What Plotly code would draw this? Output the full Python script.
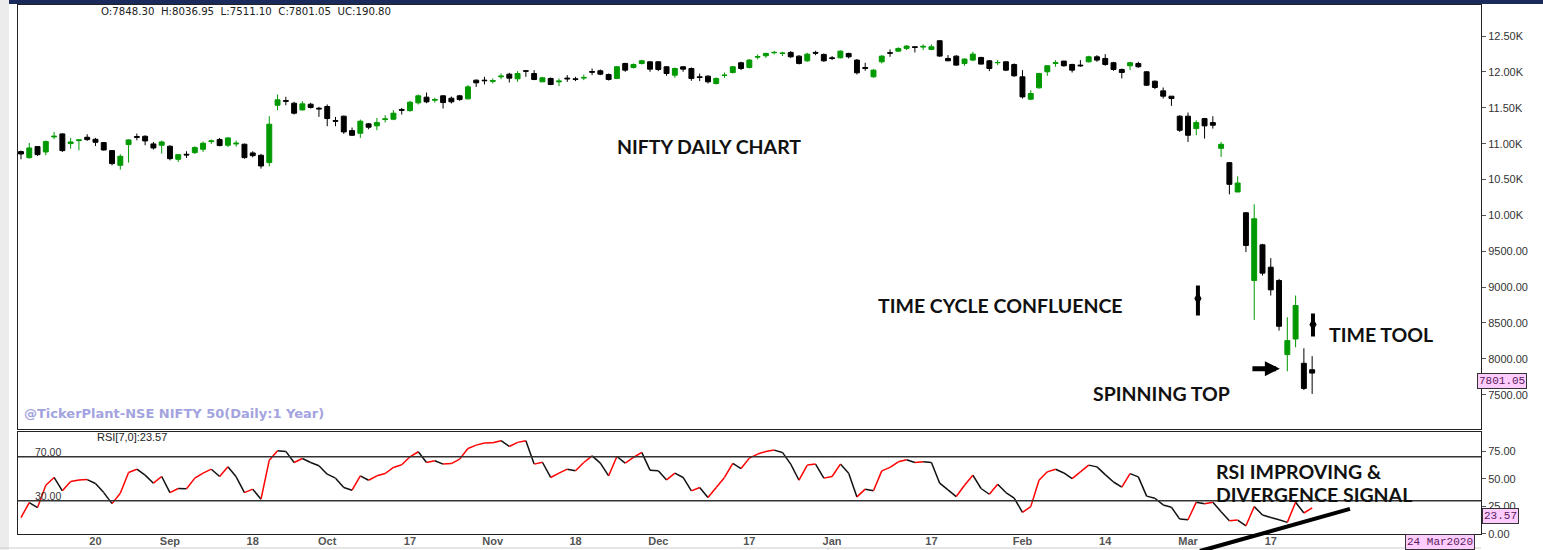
import plotly.graph_objects as go
import pandas as pd

W, H = 1543, 550
FIG_H = 557   # rendered height; layout positions below are expressed as fractions of the 550px reference

# ---------------- data ----------------
holidays = ['2019-08-12', '2019-08-15', '2019-09-02', '2019-09-10', '2019-10-02',
            '2019-10-08', '2019-10-21', '2019-10-28', '2019-11-12', '2019-12-25',
            '2020-02-21', '2020-03-10']
special_sessions = ['2019-10-27', '2020-02-01']
_bd = [d.strftime('%Y-%m-%d') for d in pd.bdate_range('2019-08-05', '2020-03-24')]
dates = sorted((set(_bd) - set(holidays)) | set(special_sessions))

opens = [10889, 10805, 10959, 10884, 11094, 11136, 11001, 11042, 11089, 11061,
         11015, 10903, 10698, 10987, 11099, 11103, 10996, 10978, 10964, 10782,
         10852, 10875, 10922, 11029, 11057, 10978, 10996, 10992, 10871, 10838,
         10736, 11536, 11601, 11564, 11471, 11550, 11494, 11518, 11322, 11383,
         11182, 11145, 11276, 11248, 11336, 11341, 11476, 11462, 11569, 11648,
         11606, 11667, 11634, 11667, 11625, 11885, 11885, 11868, 11932, 11969,
         11904, 12016, 11978, 11862, 11909, 11862, 11914, 11904, 11914, 12006,
         12016, 11964, 11909, 12118, 12062, 12118, 12141, 12141, 12072, 11955,
         12072, 12048, 11932, 11941, 11839, 11950, 11992, 12128, 12062, 12207,
         12225, 12267, 12258, 12272, 12220, 12155, 12272, 12244, 12197, 12197,
         12258, 12165, 12062, 11932, 12141, 12267, 12290, 12328, 12351, 12346,
         12314, 12435, 12188, 12220, 12118, 12165, 12202, 12155, 12128, 12141,
         12104, 11932, 11620, 11778, 12002, 12118, 12151, 12104, 12095, 12141,
         12211, 12188, 12128, 12034, 12086, 12118, 12002, 11871, 11736, 11662,
         11383, 11383, 11210, 11350, 11294, 10935, 10735, 10326, 10037, 9092,
         9590, 9278, 9092, 8059, 8277, 7938, 7848.30]
highs = [10903, 11010, 10968, 11043, 11164, 11145, 11080, 11061, 11131, 11080,
         11024, 10912, 10852, 11061, 11141, 11117, 11024, 11043, 10978, 10857,
         10894, 10964, 11029, 11057, 11080, 11089, 11043, 11001, 10894, 10857,
         11383, 11685, 11653, 11583, 11592, 11569, 11513, 11546, 11373, 11392,
         11224, 11336, 11289, 11359, 11397, 11466, 11499, 11597, 11685, 11713,
         11639, 11676, 11657, 11680, 11816, 11895, 11932, 11909, 11978, 11988,
         12011, 12025, 12025, 11932, 11923, 11909, 11955, 11932, 11964, 12048,
         12034, 11978, 12081, 12128, 12118, 12169, 12151, 12151, 12081, 12062,
         12081, 12062, 11978, 11955, 11923, 11992, 12081, 12142, 12179, 12244,
         12267, 12295, 12281, 12290, 12234, 12267, 12295, 12258, 12221, 12300,
         12267, 12179, 12128, 12039, 12234, 12314, 12342, 12374, 12351, 12384,
         12384, 12444, 12235, 12234, 12188, 12281, 12211, 12165, 12165, 12151,
         12118, 12025, 11746, 11988, 12095, 12165, 12155, 12114, 12165, 12225,
         12234, 12248, 12141, 12048, 12141, 12141, 12011, 11881, 11783, 11662,
         11397, 11434, 11327, 11359, 11383, 11024, 10745, 10545, 10045, 10154,
         9604, 9404, 9115, 8580, 8883, 8147, 8036.95]
lows = [10782, 10791, 10829, 10838, 11061, 10884, 10931, 10908, 11038, 10968,
        10903, 10698, 10638, 10736, 11047, 10978, 10917, 10861, 10768, 10745,
        10801, 10857, 10885, 10996, 10964, 10954, 10959, 10791, 10810, 10652,
        10684, 11466, 11536, 11406, 11462, 11490, 11373, 11243, 11243, 11136,
        11108, 11080, 11201, 11187, 11294, 11327, 11406, 11443, 11546, 11564,
        11573, 11490, 11560, 11597, 11615, 11792, 11825, 11839, 11899, 11853,
        11862, 11932, 11885, 11862, 11816, 11802, 11862, 11872, 11885, 11955,
        11955, 11881, 11899, 12002, 12048, 12104, 12002, 12011, 11946, 11918,
        12002, 11876, 11872, 11839, 11825, 11918, 11978, 12025, 12048, 12174,
        12197, 12244, 12221, 12197, 12104, 12141, 12234, 12141, 12165, 12188,
        12188, 11964, 12016, 11918, 12118, 12211, 12281, 12304, 12272, 12304,
        12304, 12211, 12151, 12086, 12086, 12151, 12104, 12011, 12095, 12011,
        11932, 11629, 11606, 11769, 11946, 12072, 12072, 11992, 12072, 12132,
        12141, 12086, 12016, 11909, 12025, 12058, 11806, 11760, 11629, 11527,
        11164, 11024, 11117, 11071, 11210, 10815, 10293, 10326, 9488, 8543,
        9162, 8883, 8394, 7826, 8161, 7565, 7511.10]
closes = [10856, 10940, 10847, 11029, 11103, 10903, 11024, 11052, 11057, 11019,
          10912, 10722, 10824, 11052, 11089, 11038, 10940, 11024, 10791, 10847,
          10843, 10945, 11006, 11038, 10973, 11080, 11006, 10805, 10833, 10689,
          11271, 11611, 11592, 11425, 11555, 11504, 11485, 11350, 11313, 11164,
          11117, 11313, 11229, 11294, 11345, 11425, 11466, 11578, 11667, 11583,
          11615, 11573, 11583, 11615, 11792, 11848, 11878, 11880, 11941, 11913,
          11978, 12011, 11895, 11918, 11825, 11872, 11904, 11895, 11923, 11997,
          11969, 11895, 12072, 12025, 12104, 12155, 12039, 12034, 11978, 12048,
          12039, 11909, 11923, 11862, 11909, 11955, 12072, 12048, 12165, 12212,
          12258, 12272, 12262, 12211, 12118, 12248, 12262, 12155, 12188, 12290,
          12211, 11988, 12050, 12025, 12220, 12262, 12328, 12360, 12342, 12356,
          12351, 12221, 12155, 12095, 12179, 12248, 12109, 12048, 12132, 12025,
          11946, 11652, 11699, 11978, 12086, 12128, 12086, 12025, 12086, 12211,
          12165, 12104, 12034, 11992, 12128, 12072, 11815, 11783, 11662, 11629,
          11187, 11117, 11294, 11248, 11257, 10991, 10433, 10451, 9581, 9953,
          9195, 8962, 8454, 8254, 8743, 7588, 7801.05]
rsi = [14.8, 28.5, 23.9, 44.2, 51.2, 39.1, 47.5, 49.0, 49.3, 45.7,
       37.5, 27.5, 36.9, 55.7, 58.7, 53.3, 46.0, 52.1, 37.5, 41.2,
       41.0, 50.6, 55.1, 58.7, 52.1, 60.9, 51.8, 37.5, 40.6, 31.5,
       66.9, 75.4, 74.8, 64.8, 68.4, 64.8, 61.8, 54.2, 50.6, 42.1,
       39.7, 52.7, 48.7, 52.7, 54.8, 60.3, 62.7, 69.9, 74.5, 64.8,
       66.3, 63.3, 63.8, 67.8, 77.5, 80.5, 82.4, 82.6, 84.5, 79.3,
       83.0, 84.5, 63.3, 65.0, 51.2, 55.1, 58.7, 57.2, 64.8, 70.8,
       64.2, 52.7, 70.2, 64.2, 69.3, 73.9, 57.8, 57.2, 49.0, 55.1,
       51.2, 39.1, 42.1, 33.0, 42.1, 51.2, 63.9, 59.3, 68.7, 72.4,
       74.8, 76.0, 73.9, 63.3, 48.7, 62.4, 63.3, 50.6, 52.1, 63.3,
       55.1, 33.6, 40.6, 39.1, 57.2, 60.3, 65.4, 67.2, 64.8, 65.4,
       64.8, 46.0, 40.0, 33.9, 44.2, 53.3, 41.2, 36.0, 45.1, 37.5,
       32.5, 19.6, 24.8, 48.6, 56.3, 58.7, 55.3, 50.2, 56.3, 62.4,
       60.8, 53.8, 47.1, 42.5, 54.7, 51.7, 34.3, 32.4, 26.3, 24.2,
       13.5, 12.9, 28.8, 27.3, 28.8, 20.2, 12.0, 12.6, 7.4, 24.8,
       17.2, 15.0, 12.9, 10.5, 28.8, 19.0, 23.57]

tick_dates = ['2019-08-20', '2019-09-03', '2019-09-18', '2019-10-01', '2019-10-17',
              '2019-11-01', '2019-11-18', '2019-12-02', '2019-12-17', '2020-01-01',
              '2020-01-17', '2020-02-01', '2020-02-14', '2020-03-02', '2020-03-17']
tick_labels = ['20', 'Sep', '18', 'Oct', '17', 'Nov', '18', 'Dec', '17', 'Jan',
               '17', 'Feb', '14', 'Mar', '17']
price_ticks = [7500, 8000, 8500, 9000, 9500, 10000, 10500, 11000, 11500, 12000, 12500]
price_tick_labels = ['7500.00', '8000.00', '8500.00', '9000.00', '9500.00', '10.00K',
                     '10.50K', '11.00K', '11.50K', '12.00K', '12.50K']
rsi_ticks = [0, 25, 50, 75]
rsi_tick_labels = ['0.00', '25.00', '50.00', '75.00']

# ---------------- figure ----------------
if len(dates) != len(closes):
    dates = dates[-len(closes):] if len(dates) > len(closes) else dates + [''] * (len(closes) - len(dates))
idx = list(range(len(closes)))

fig = go.Figure()
fig.add_trace(go.Candlestick(
    x=idx, open=opens, high=highs, low=lows, close=closes,
    increasing=dict(line=dict(color='#009900', width=1), fillcolor='#009900'),
    decreasing=dict(line=dict(color='#000000', width=1), fillcolor='#000000'),
    whiskerwidth=0, hovertext=dates, xaxis='x', yaxis='y', showlegend=False))

# RSI segments: red when rising, black when falling
rx, ry, bx, by = [], [], [], []
for i in range(1, len(rsi)):
    if rsi[i] >= rsi[i - 1]:
        rx += [idx[i - 1], idx[i], None]; ry += [rsi[i - 1], rsi[i], None]
    else:
        bx += [idx[i - 1], idx[i], None]; by += [rsi[i - 1], rsi[i], None]
fig.add_trace(go.Scatter(x=bx, y=by, mode='lines', line=dict(color='#111111', width=1.5),
                         xaxis='x2', yaxis='y2', showlegend=False, hoverinfo='skip'))
fig.add_trace(go.Scatter(x=rx, y=ry, mode='lines', line=dict(color='#ff0000', width=1.5),
                         xaxis='x2', yaxis='y2', showlegend=False, hoverinfo='skip'))

def px_x(p):
    return p / W

def px_y(p):
    return 1 - p / H

xdom = [px_x(18), px_x(1481)]
xrange_ = [-0.36, 176.4]
tickvals = [dates.index(d) for d in tick_dates if d in dates]
axfont = dict(family='Liberation Sans, Arial', size=11, color='#333333')

fig.update_layout(
    width=W, height=FIG_H, margin=dict(l=0, r=0, t=0, b=0),
    paper_bgcolor='white', plot_bgcolor='white', boxgap=0.15,
    showlegend=False,
    xaxis=dict(domain=xdom, range=xrange_, anchor='y', showticklabels=False,
               showline=True, linecolor='#222', linewidth=1, mirror=True,
               showgrid=False, zeroline=False, rangeslider=dict(visible=False), ticks=''),
    yaxis=dict(domain=[px_y(428), px_y(5)], range=[7025, 12933], side='right', anchor='x',
               tickvals=price_ticks, ticktext=price_tick_labels, ticks='outside',
               ticklen=4, tickcolor='#555', showline=True, linecolor='#222', mirror=True,
               showgrid=False, zeroline=False, tickfont=axfont),
    xaxis2=dict(domain=xdom, range=xrange_, anchor='y2', matches='x',
                tickvals=tickvals, ticktext=tick_labels, ticks='', ticklabelstandoff=-3,
                showline=True, linecolor='#222', mirror=True, showgrid=False, zeroline=False,
                tickfont=dict(family='Liberation Sans, Arial', size=11, color='#555555', weight='bold')),
    yaxis2=dict(domain=[px_y(533), px_y(431)], range=[0, 92.6], side='right', anchor='x2',
                tickvals=rsi_ticks, ticktext=rsi_tick_labels, ticks='outside', ticklen=4,
                tickcolor='#555', showline=True, linecolor='#222', mirror=True,
                showgrid=False, zeroline=False, tickfont=axfont),
)

shapes = [
    dict(type='rect', xref='paper', yref='paper', x0=0, x1=px_x(9), y0=0, y1=1,
         fillcolor='#ececec', line=dict(width=0), layer='below'),
    dict(type='rect', xref='paper', yref='paper', x0=px_x(9), x1=1, y0=px_y(4), y1=1,
         fillcolor='#1b2a5c', line=dict(width=0)),
    dict(type='line', xref='x2 domain', yref='y2', x0=0, x1=1, y0=70, y1=70,
         line=dict(color='#333333', width=1.5)),
    dict(type='line', xref='x2 domain', yref='y2', x0=0, x1=1, y0=30, y1=30,
         line=dict(color='#333333', width=1.5)),
    dict(type='line', xref='paper', yref='paper', x0=px_x(0), x1=px_x(1481), y0=px_y(547), y1=px_y(547),
         line=dict(color='#cccccc', width=1)),
    dict(type='line', xref='paper', yref='paper', x0=px_x(828), x1=px_x(828), y0=0, y1=px_y(547),
         line=dict(color='#cccccc', width=1)),
    # TIME CYCLE arrow
    dict(type='line', xref='x', yref='y', x0=142.2, x1=142.2, y0=8603, y1=9022,
         line=dict(color='black', width=4)),
    # TIME TOOL arrow
    dict(type='line', xref='x', yref='y', x0=156.1, x1=156.1, y0=8310, y1=8631,
         line=dict(color='black', width=4)),
    # divergence line
    dict(type='line', xref='paper', yref='paper', x0=px_x(1200), y0=px_y(550), x1=px_x(1350), y1=px_y(508),
         line=dict(color='black', width=4)),
]
fig.update_layout(shapes=shapes)

fig.add_trace(go.Scatter(x=[142.2, 156.1], y=[8841, 8478], mode='markers',
                         marker=dict(symbol='diamond-tall', size=10, color='black'),
                         xaxis='x', yaxis='y', showlegend=False, hoverinfo='skip'))

big = dict(family='Lato, Open Sans, sans-serif', size=19.5, color='#111111', weight='bold')
mono = dict(family='Liberation Mono, Courier New, monospace', size=11, color='#5a1a5a')
ann = [
    dict(text='O:7848.30  H:8036.95  L:7511.10  C:7801.05  UC:190.80', x=px_x(99), y=px_y(11.5),
         xanchor='left', yanchor='middle', font=dict(family='DejaVu Sans, Verdana', size=10.2, color='#222')),
    dict(text='NIFTY DAILY CHART', x=px_x(709), y=px_y(146), xanchor='center', yanchor='middle', font=big),
    dict(text='TIME CYCLE CONFLUENCE', x=px_x(1000), y=px_y(305), xanchor='center', yanchor='middle', font=big),
    dict(text='TIME TOOL', x=px_x(1381), y=px_y(334), xanchor='center', yanchor='middle', font=big),
    dict(text='SPINNING TOP', x=px_x(1161), y=px_y(393), xanchor='center', yanchor='middle', font=big),
    dict(text='RSI IMPROVING &', x=px_x(1214), y=px_y(471), xanchor='left', yanchor='middle', font=big),
    dict(text='DIVERGENCE SIGNAL', x=px_x(1214), y=px_y(494), xanchor='left', yanchor='middle', font=big),
    dict(text='@TickerPlant-NSE NIFTY 50(Daily:1 Year)', x=px_x(22), y=px_y(413), xanchor='left',
         yanchor='middle', font=dict(family='DejaVu Sans, Verdana', size=13, color='#a3a3e0', weight='bold')),
    dict(text='RSI[7,0]:23.57', x=px_x(95), y=px_y(436.5), xanchor='left', yanchor='middle',
         font=dict(family='Liberation Sans, Arial', size=11, color='#222')),
    dict(text='70.00', x=px_x(33), y=px_y(451), xanchor='left', yanchor='middle',
         font=dict(family='Liberation Sans, Arial', size=10.5, color='#333')),
    dict(text='30.00', x=px_x(33), y=px_y(495), xanchor='left', yanchor='middle',
         font=dict(family='Liberation Sans, Arial', size=10.5, color='#333')),
    dict(text='7801.05', x=px_x(1477), y=7801.05, yref='y', xanchor='left', yanchor='top',
         bgcolor='#ffccff', bordercolor='#333', borderwidth=1, borderpad=1, font=mono),
    dict(text='23.57', x=px_x(1482), y=23.57, yref='y2', xanchor='left', yanchor='top',
         bgcolor='#ffccff', bordercolor='#333', borderwidth=1, borderpad=1, font=mono),
    dict(text='24 Mar2020', x=px_x(1405), y=px_y(541.5), xanchor='left', yanchor='middle',
         bgcolor='#ffccff', bordercolor='#333', borderwidth=1, borderpad=1, font=mono),
    dict(text='2019', x=px_x(421), y=px_y(553), xanchor='center', yanchor='middle',
         font=dict(family='Liberation Sans, Arial', size=10, color='#555', weight='bold')),
    dict(text='2020', x=px_x(1068), y=px_y(553), xanchor='center', yanchor='middle',
         font=dict(family='Liberation Sans, Arial', size=10, color='#555', weight='bold')),
    dict(text='', x=152.1, y=7863, ax=148.6, ay=7863, xref='x', yref='y', axref='x', ayref='y',
         showarrow=True, arrowhead=2, arrowsize=0.6, arrowwidth=5, arrowcolor='black'),
]
for a in ann:
    a.setdefault('xref', 'paper')
    a.setdefault('yref', 'paper')
    a.setdefault('showarrow', False)
fig.update_layout(annotations=ann)

fig.write_html('out.html', config={'displayModeBar': False},
               post_script="document.body.style.margin='0';document.body.style.overflow='hidden';")
